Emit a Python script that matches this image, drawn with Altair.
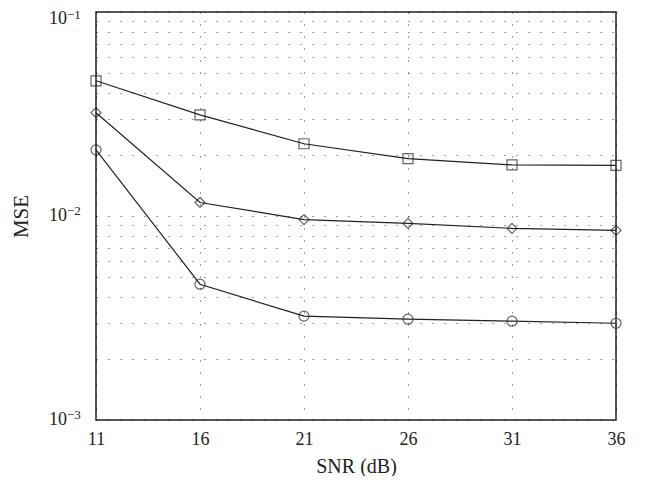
import altair as alt
import pandas as pd

snr = [11, 16, 21, 26, 31, 36]
mse_square = [0.0460, 0.0313, 0.0226, 0.0191, 0.0178, 0.0177]
mse_diamond = [0.0321, 0.01165, 0.0096, 0.0092, 0.0087, 0.0085]
mse_circle = [0.0211, 0.00463, 0.00323, 0.00312, 0.00305, 0.00298]
y_major = [0.001, 0.01, 0.1]
y_major_exp = ["−3", "−2", "−1"]

rows = []
for name, vals in [("square", mse_square), ("diamond", mse_diamond), ("circle", mse_circle)]:
    for s, v in zip(snr, vals):
        rows.append({"snr": s, "mse": v, "series": name})
df = pd.DataFrame(rows)
lab = pd.DataFrame({"mse": y_major, "exp": y_major_exp})

yvals = [m * 10 ** e for e in (-3, -2) for m in range(1, 10)] + [0.1]

font = "Liberation Serif"
col = "#222"
xscale = alt.Scale(domain=[11, 36], nice=False, zero=False)
yscale = alt.Scale(type="log", domain=[0.001, 0.1], nice=False)

xenc = alt.X("snr:Q", scale=xscale,
             axis=alt.Axis(values=snr, title="SNR (dB)", grid=True, gridDash=[1, 11],
                           gridColor="#000", gridOpacity=0.75, ticks=False, labelPadding=10,
                           domain=False, labelFont=font, labelFontSize=18, labelColor=col,
                           labelFlush=False,
                           titleFont=font, titleFontSize=20, titleFontWeight="normal",
                           titleColor=col, titlePadding=8))
yenc = alt.Y("mse:Q", scale=yscale,
             axis=alt.Axis(values=yvals, title="MSE", grid=True, gridDash=[1, 11],
                           gridColor="#000", gridOpacity=0.75, ticks=False, labels=False,
                           domain=False,
                           titleFont=font, titleFontSize=21, titleFontWeight="normal",
                           titleColor=col, titlePadding=65))

shape_scale = alt.Scale(domain=["square", "diamond", "circle"], range=["square", "diamond", "circle"])

lines = alt.Chart(df).mark_line(color=col, strokeWidth=1.2).encode(
    x=xenc, y=yenc, detail="series:N")
points = alt.Chart(df).mark_point(color=col, filled=False, strokeWidth=1.2, size=100).encode(
    x="snr:Q", y="mse:Q",
    shape=alt.Shape("series:N", scale=shape_scale, legend=None))


def tick_labels(flt, shift, sup_rise):
    base = alt.Chart(lab).transform_filter(flt).mark_text(
        font=font, fontSize=18, color=col, align="right", baseline="middle", dy=shift).encode(
        x=alt.value(-29), y=alt.Y("mse:Q", scale=yscale), text=alt.value("10"))
    sup = alt.Chart(lab).transform_filter(flt).mark_text(
        font=font, fontSize=13, color=col, align="left", baseline="middle",
        dy=shift - sup_rise).encode(
        x=alt.value(-29), y=alt.Y("mse:Q", scale=yscale), text="exp:N")
    return [base, sup]


labels = tick_labels(alt.datum.mse < 0.05, 0, 5) + tick_labels(alt.datum.mse > 0.05, 7, 4)

chart = alt.layer(lines, points, *labels).properties(
    width=520, height=408,
    autosize=alt.AutoSizeParams(type="none"),
    padding={"left": 88, "top": 4, "right": 22, "bottom": 56},
    background="white",
).configure_view(stroke=col, strokeWidth=1.5)

chart.save("out.html", embed_options={"renderer": "svg", "actions": False})
